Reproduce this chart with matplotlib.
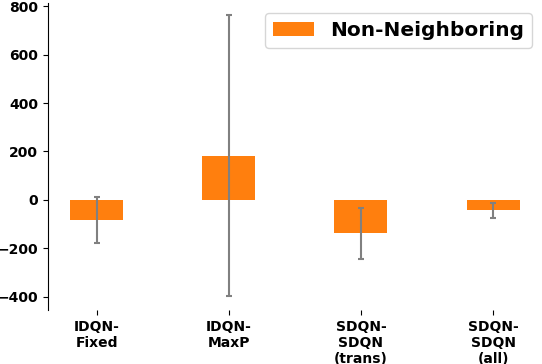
import numpy as np
import matplotlib
matplotlib.use("Agg")
import matplotlib.pyplot as plt

methods = ["IDQN-\nFixed", "IDQN-\nMaxP", "SDQN-\nSDQN\n(trans)", "SDQN-\nSDQN\n(all)"]
values = [-82, 182, -138, -42]
errors = [94, 580, 105, 31]

fig = plt.figure(figsize=(5.42, 3.64), dpi=100)
ax = fig.add_axes([0.088, 0.148, 0.912, 0.845])

x = np.arange(len(methods))
ax.bar(x, values, width=0.4, color="#ff7f0e", label="Non-Neighboring",
       yerr=errors, ecolor="gray", capsize=2.5,
       error_kw=dict(elinewidth=1.5, capthick=1.5))

ax.set_xticks(x)
ax.set_xticklabels(methods, fontweight="bold", fontsize=10)
ax.set_ylim(-455, 815)
ax.set_yticks([-400, -200, 0, 200, 400, 600, 800])
for lbl in ax.get_yticklabels():
    lbl.set_fontweight("bold")
    lbl.set_fontsize(10)

ax.spines["top"].set_visible(False)
ax.spines["right"].set_visible(False)
ax.spines["bottom"].set_visible(False)

ax.legend(loc="upper right", prop=dict(weight="bold", size=14.5))

plt.savefig("out.png", dpi=100)
